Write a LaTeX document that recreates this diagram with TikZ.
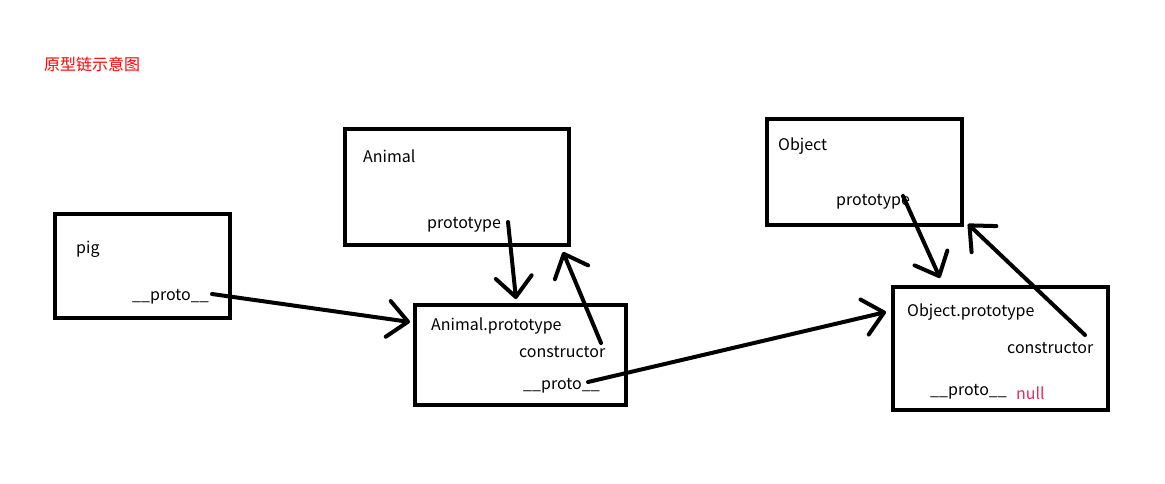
\documentclass[tikz,border=0pt]{standalone}
\usepackage{fontspec}
\setmainfont{Noto Sans CJK SC}
\usetikzlibrary{arrows.meta}
\definecolor{nullred}{RGB}{230,45,95}
\tikzset{
  box/.style={draw=black, line width=4pt},
  lbl/.style={anchor=base west, inner sep=0pt, font=\fontsize{16}{19}\selectfont, text=black},
  link/.style={line width=4pt, line cap=round, -{Straight Barb[length=20pt,width=36pt,line width=4pt,round]}},
}
\begin{document}
\begin{tikzpicture}[x=1pt,y=-1pt]
\useasboundingbox (0,0) rectangle (1165,483);
% title
\node[lbl, text=red] (title) at (44,70) {原型链示意图};
% boxes
\draw[box] (55,214) rectangle (230,318);
\draw[box] (345,129) rectangle (569,245);
\draw[box] (415,305) rectangle (626,405);
\draw[box] (767,119) rectangle (962,225);
\draw[box] (893,287) rectangle (1108,410);
% labels
\node[lbl] (pig) at (76,253) {pig};
\node[lbl] (pigproto) at (132,300) {\_\_proto\_\_};
\node[lbl] (animal) at (363,162) {Animal};
\node[lbl] (animalproto) at (427,228) {prototype};
\node[lbl] (ap) at (431,330) {Animal.prototype};
\node[lbl] (apcons) at (519,357) {constructor};
\node[lbl] (approto) at (523,389) {\_\_proto\_\_};
\node[lbl] (object) at (778,150) {Object};
\node[lbl] (objproto) at (836,205) {prototype};
\node[lbl] (op) at (907,316) {Object.prototype};
\node[lbl] (opcons) at (1007,353) {constructor};
\node[lbl] (opproto) at (930,395) {\_\_proto\_\_};
\node[lbl, text=nullred] (null) at (1016,399) {null};
% arrow ends
\coordinate (s1) at (212,294); \coordinate (t1) at (410,322);
\coordinate (s2) at (508,222); \coordinate (t2) at (516,299);
\coordinate (s3) at (601,343); \coordinate (t3) at (563,252);
\coordinate (s4) at (588,382); \coordinate (t4) at (886,312);
\coordinate (s5) at (903,196); \coordinate (t5) at (940,278);
\coordinate (s6) at (1085,335); \coordinate (t6) at (968,224);
% arrows
\draw[link] (s1) -- (t1);
\draw[link] (s2) -- (t2);
\draw[link] (s3) -- (t3);
\draw[link] (s4) -- (t4);
\draw[link] (s5) -- (t5);
\draw[link] (s6) -- (t6);
\end{tikzpicture}
\end{document}
